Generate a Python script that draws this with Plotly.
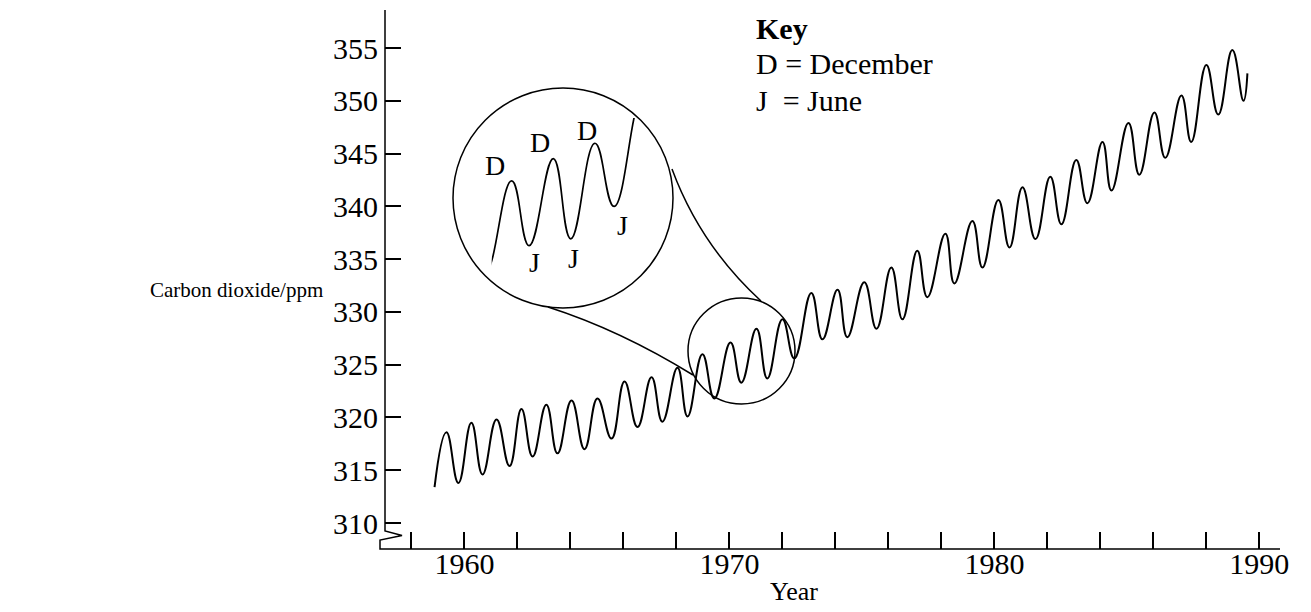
import plotly.graph_objects as go

# ---------------- data ----------------
year = [1958.87, 1959.32, 1959.77, 1960.26, 1960.68, 1961.21, 1961.70, 1962.15, 1962.57, 1963.09,
        1963.51, 1964.04, 1964.53, 1965.02, 1965.55, 1966.04, 1966.53, 1967.06, 1967.47, 1968.04,
        1968.42, 1968.98, 1969.43, 1970.04, 1970.45, 1971.02, 1971.43, 1972.00, 1972.45, 1973.09,
        1973.51, 1974.08, 1974.45, 1975.09, 1975.55, 1976.11, 1976.53, 1977.09, 1977.47, 1978.15,
        1978.49, 1979.17, 1979.55, 1980.15, 1980.57, 1981.06, 1981.55, 1982.11, 1982.53, 1983.09,
        1983.51, 1984.08, 1984.42, 1985.06, 1985.47, 1986.04, 1986.45, 1987.06, 1987.43, 1988.00,
        1988.45, 1988.98, 1989.40, 1989.55]
co2_ppm = [313.4, 318.6, 313.8, 319.5, 314.6, 319.8, 315.4, 320.8, 316.3, 321.2,
           316.6, 321.6, 317.0, 321.8, 318.0, 323.4, 319.1, 323.8, 319.6, 324.7,
           320.1, 326.0, 321.8, 327.1, 323.3, 328.4, 323.7, 329.3, 325.6, 331.8,
           327.4, 332.1, 327.6, 332.8, 328.4, 334.2, 329.3, 335.8, 331.4, 337.4,
           332.7, 338.6, 334.2, 340.6, 336.1, 341.8, 336.9, 342.8, 338.3, 344.4,
           340.3, 346.1, 341.5, 347.9, 343.0, 348.9, 344.6, 350.5, 346.1, 353.4,
           348.7, 354.8, 350.0, 352.6]

x_tick_vals = list(range(1958, 1991, 2))
x_tick_text = [str(v) if v % 10 == 0 else "" for v in x_tick_vals]
y_tick_vals = list(range(310, 356, 5))
y_tick_text = [str(v) for v in y_tick_vals]

# inset: indices of the December peaks and June troughs shown magnified
december_idx = [23, 25, 27]
june_idx = [24, 26, 28]
key_lines = ["<b>Key</b>", "D = December", "J\u00a0 = June"]

# ---------------- layout helpers ----------------
W, H = 1311, 612
L, R, T, B = 385, 31, 10, 63
PW, PH = W - L - R, H - T - B
FONT = "Liberation Serif, Times New Roman, serif"


def px(x):
    return (x - L) / PW


def py(y):
    return (H - B - y) / PH


fig = go.Figure()

fig.add_trace(go.Scatter(x=year, y=co2_ppm, mode="lines",
                         line=dict(color="black", width=2, shape="spline", smoothing=1.3),
                         hoverinfo="skip", showlegend=False))

# magnified inset (same data on its own axes)
fig.add_trace(go.Scatter(x=year, y=co2_ppm, mode="lines", xaxis="x2", yaxis="y2",
                         line=dict(color="black", width=1.7, shape="spline", smoothing=1.3),
                         hoverinfo="skip", showlegend=False))

axis_common = dict(showgrid=False, zeroline=False, showline=False, ticks="inside",
                   tickcolor="black", tickwidth=1.5,
                   tickfont=dict(family=FONT, size=30, color="black"))

inset_x_px = (491.7, 638.3)
inset_y_px = (280, 118)

fig.update_layout(
    width=W, height=H,
    margin=dict(l=L, r=R, t=T, b=B, pad=0),
    paper_bgcolor="white", plot_bgcolor="white",
    font=dict(family=FONT, color="black"),
    xaxis=dict(range=[1957.0, 1990.78], tickvals=x_tick_vals, ticktext=x_tick_text,
               ticklen=17, ticklabelstandoff=-6, **axis_common),
    yaxis=dict(range=[307.54, 358.6], tickvals=y_tick_vals, ticktext=y_tick_text,
               ticklen=16, ticklabelstandoff=6, **axis_common),
    xaxis2=dict(domain=[px(inset_x_px[0]), px(inset_x_px[1])], range=[1969.57, 1973.02],
                visible=False, anchor="y2"),
    yaxis2=dict(domain=[py(inset_y_px[0]), py(inset_y_px[1])], range=[321.29, 330.78],
                visible=False, anchor="x2"),
)

line = dict(color="black", width=1.5)
# axes lines with break symbol
axis_path = (f"M {px(385)},{py(10)} L {px(385)},{py(531)} L {px(402)},{py(535.5)} "
             f"L {px(380)},{py(540)} L {px(380)},{py(549)} L {px(1280)},{py(549)}")
shapes = [
    dict(type="path", xref="paper", yref="paper", path=axis_path, line=line),
    # big magnifier circle
    dict(type="circle", xref="paper", yref="paper", x0=px(453), x1=px(673), y0=py(308), y1=py(88),
         line=line),
    # small circle on the data
    dict(type="circle", xref="paper", yref="paper", x0=px(688), x1=px(795), y0=py(404), y1=py(298),
         line=line),
    # connectors
    dict(type="path", xref="paper", yref="paper",
         path=f"M {px(672)},{py(169)} Q {px(700)},{py(245)} {px(761)},{py(301)}", line=line),
    dict(type="path", xref="paper", yref="paper",
         path=f"M {px(548)},{py(307)} Q {px(620)},{py(330)} {px(693)},{py(375)}", line=line),
]
fig.update_layout(shapes=shapes)

ann = []
ann.append(dict(text="Carbon dioxide/ppm", xref="paper", yref="paper", x=px(236), y=py(290),
                xanchor="center", yanchor="middle", showarrow=False,
                font=dict(family=FONT, size=21, color="black")))
ann.append(dict(text="Year", xref="paper", yref="paper", x=px(794), y=py(591),
                xanchor="center", yanchor="middle", showarrow=False,
                font=dict(family=FONT, size=26, color="black")))
for txt, yc in zip(key_lines, [29, 64, 100]):
    ann.append(dict(text=txt, xref="paper", yref="paper", x=px(754), y=py(yc),
                    xanchor="left", yanchor="middle", showarrow=False,
                    font=dict(family=FONT, size=30, color="black")))
d_shift = [(-17, 15), (-13, 16), (-8, 13)]
j_shift = [(5, -17), (3, -20), (8, -19)]
for i, (sx, sy) in zip(december_idx, d_shift):
    ann.append(dict(text="D", xref="x2", yref="y2", x=year[i], y=co2_ppm[i], xshift=sx, yshift=sy,
                    showarrow=False, font=dict(family=FONT, size=28, color="black")))
for i, (sx, sy) in zip(june_idx, j_shift):
    ann.append(dict(text="J", xref="x2", yref="y2", x=year[i], y=co2_ppm[i], xshift=sx, yshift=sy,
                    showarrow=False, font=dict(family=FONT, size=28, color="black")))
fig.update_layout(annotations=ann)

fig.write_html("out.html", config={"displayModeBar": False},
               post_script="document.body.style.margin='0';")
